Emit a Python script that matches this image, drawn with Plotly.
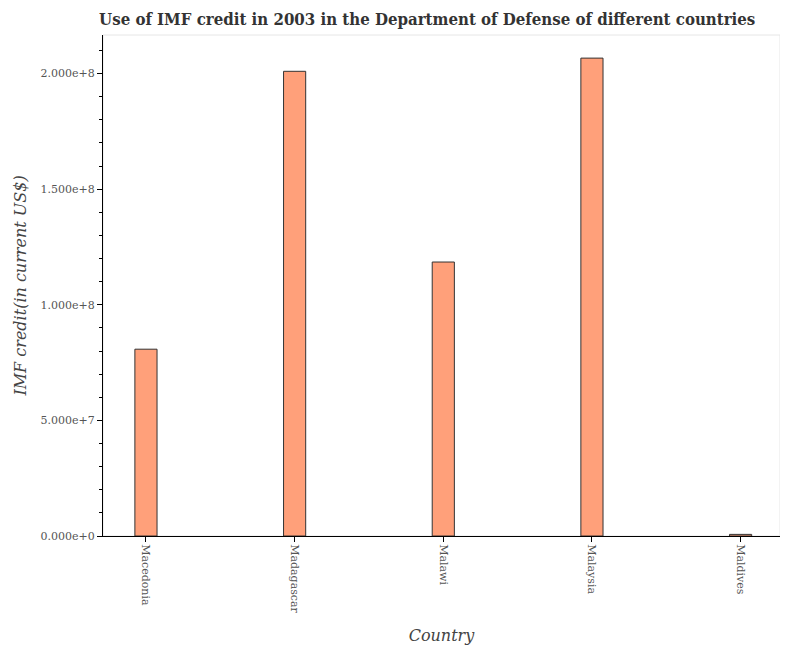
import plotly.graph_objects as go

countries = ["Macedonia", "Madagascar", "Malawi", "Malaysia", "Maldives"]
imf_credit = [80800000, 201000000, 118500000, 206700000, 700000]

fig = go.Figure()

fig.add_trace(go.Bar(
    x=countries, y=imf_credit,
    width=0.149,
    marker=dict(color="#ffa07a", line=dict(color="#333333", width=1)),
    showlegend=False
))

# light frame round the plot area
fig.add_shape(type="rect", xref="paper", yref="paper", x0=0, y0=0, x1=1, y1=1,
              line=dict(color="#e6e6e6", width=1), layer="below")

serif = "DejaVu Serif"
fig.update_layout(
    width=788, height=650,
    margin=dict(l=89, r=16, t=27, b=122),
    paper_bgcolor="white", plot_bgcolor="white",
    title=dict(text="<b>Use of IMF credit in 2003 in the Department of Defense of different countries</b>",
               x=0.532, xanchor="center", y=0.983, yanchor="middle",
               font=dict(family="DejaVu Serif Condensed", size=16.7, color="#333333")),
    xaxis=dict(
        range=[-0.289, 4.265], showgrid=False, zeroline=False,
        showline=True, linecolor="black", linewidth=1,
        ticks="outside", ticklen=5, tickcolor="black", tickangle=90,
        tickfont=dict(family=serif, size=11, color="#555555"),
        title=dict(text="<i>Country</i>", font=dict(family=serif, size=16, color="#444444"), standoff=17),
    ),
    yaxis=dict(
        range=[0, 2.167e8], showgrid=False, zeroline=False,
        showline=True, linecolor="black", linewidth=1,
        ticks="outside", ticklen=5, tickcolor="black",
        dtick=5e7, tickformat=".3e",
        minor=dict(dtick=1e7, ticks="outside", ticklen=3, tickcolor="black"),
        tickfont=dict(family=serif, size=11, color="#555555"),
        title=dict(text="<i>IMF credit(in current US$)</i>", font=dict(family=serif, size=16, color="#444444"), standoff=9),
    ),
)

fig.write_html("out.html")
